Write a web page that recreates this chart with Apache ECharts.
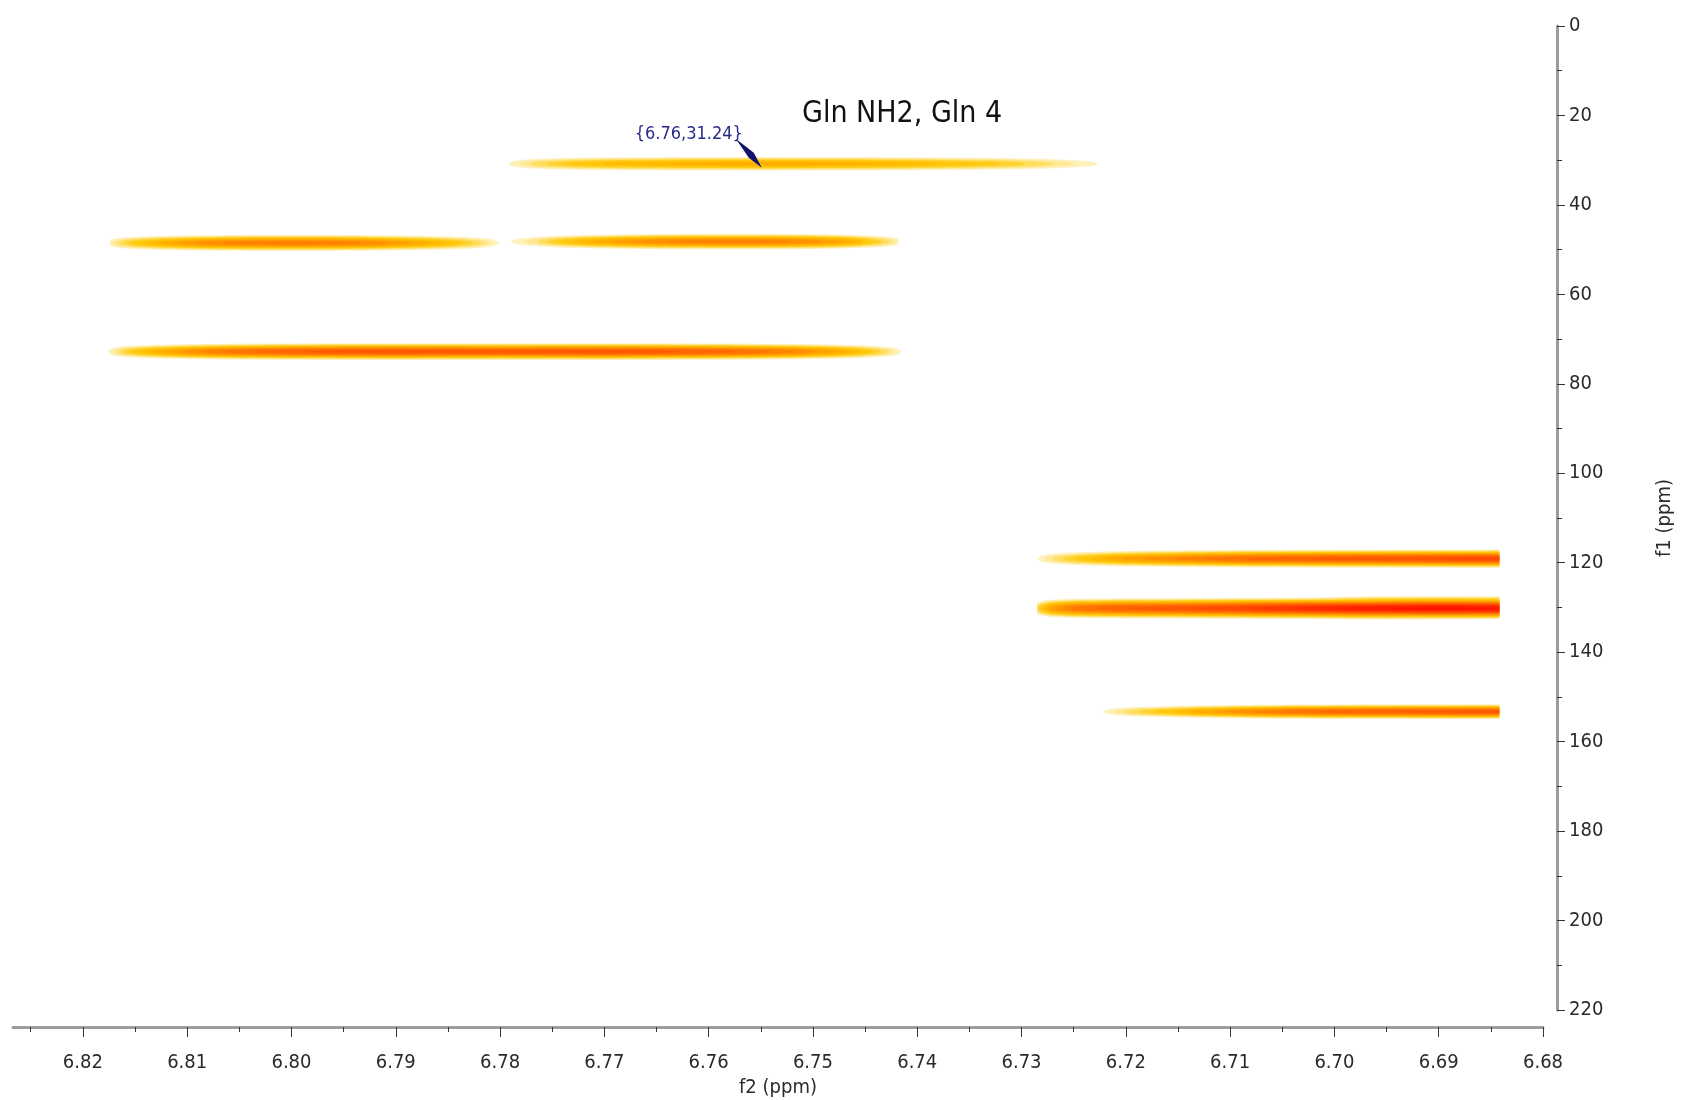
<!DOCTYPE html>
<html>
<head>
<meta charset="utf-8">
<script src="https://cdn.jsdelivr.net/npm/echarts@6/dist/echarts.min.js"></script>
<style>
html,body{margin:0;padding:0;background:#fff;}
#chart{width:1684px;height:1100px;}
</style>
</head>
<body>
<div id="chart"></div>
<script>
// ---------- data ----------
const titleText = 'Gln NH2, Gln 4';
const f2Name = 'f2 (ppm)';
const f1Name = 'f1 (ppm)';
const f2Range = [6.68, 6.8267];
const f1Range = [0, 220];
const f2MajorTicks = [6.68, 6.69, 6.70, 6.71, 6.72, 6.73, 6.74, 6.75, 6.76, 6.77, 6.78, 6.79, 6.80, 6.81, 6.82];
const f2MinorTicks = [6.685, 6.695, 6.705, 6.715, 6.725, 6.735, 6.745, 6.755, 6.765, 6.775, 6.785, 6.795, 6.805, 6.815, 6.825];
const f1Interval = 20;

// peaks: centre in f1 (ppm), linewidth (sigma) in f1, intensity profile along f2
const peakNames = ['A', 'B1', 'B2', 'C', 'D', 'E', 'E-upper', 'E-lower', 'F'];
const peakF1 = [30.8, 48.5, 48.2, 72.8, 119.1, 130.2, 128.7, 131.7, 153.3];
const peakSigmaF1 = [0.74, 0.76, 0.74, 0.74, 0.80, 0.90, 0.62, 0.55, 0.66];
const peakF2 = [
  [6.7792, 6.7765, 6.7730, 6.7690, 6.7640, 6.7590, 6.7550, 6.7500, 6.7440, 6.7380, 6.7320, 6.7270, 6.7226],
  [6.8174, 6.8150, 6.8120, 6.8090, 6.8060, 6.8030, 6.8000, 6.7970, 6.7940, 6.7910, 6.7880, 6.7850, 6.7825, 6.7801],
  [6.7790, 6.7765, 6.7740, 6.7710, 6.7680, 6.7650, 6.7620, 6.7590, 6.7560, 6.7530, 6.7500, 6.7470, 6.7445, 6.7418],
  [6.8176, 6.8155, 6.8125, 6.8090, 6.8050, 6.8000, 6.7950, 6.7900, 6.7850, 6.7800, 6.7750, 6.7700, 6.7650, 6.7600, 6.7560, 6.7520, 6.7480, 6.7450, 6.7415],
  [6.7285, 6.7260, 6.7230, 6.7200, 6.7160, 6.7120, 6.7080, 6.7040, 6.7000, 6.6960, 6.6920, 6.6880, 6.6842],
  [6.7285, 6.7272, 6.7250, 6.7210, 6.7150, 6.7100, 6.7050, 6.7000, 6.6960, 6.6920, 6.6880, 6.6842],
  [6.7040, 6.7000, 6.6960, 6.6920, 6.6880, 6.6842],
  [6.7030, 6.6990, 6.6950, 6.6910, 6.6880],
  [6.7222, 6.7195, 6.7160, 6.7120, 6.7080, 6.7040, 6.7000, 6.6960, 6.6920, 6.6880, 6.6842]
];
const peakIntensity = [
  [0.02, 0.06, 0.10, 0.13, 0.15, 0.165, 0.17, 0.165, 0.15, 0.12, 0.09, 0.05, 0.02],
  [0.03, 0.10, 0.17, 0.24, 0.29, 0.315, 0.32, 0.315, 0.29, 0.24, 0.18, 0.12, 0.07, 0.02],
  [0.02, 0.05, 0.10, 0.16, 0.22, 0.27, 0.30, 0.31, 0.31, 0.29, 0.25, 0.18, 0.10, 0.03],
  [0.02, 0.09, 0.17, 0.27, 0.37, 0.44, 0.48, 0.49, 0.48, 0.47, 0.48, 0.49, 0.47, 0.43, 0.37, 0.29, 0.19, 0.11, 0.02],
  [0.02, 0.07, 0.13, 0.20, 0.27, 0.34, 0.40, 0.44, 0.47, 0.49, 0.51, 0.54, 0.56],
  [0.06, 0.20, 0.34, 0.44, 0.50, 0.57, 0.66, 0.76, 0.83, 0.86, 0.86, 0.84],
  [0.02, 0.09, 0.13, 0.14, 0.14, 0.13],
  [0.02, 0.09, 0.11, 0.09, 0.02],
  [0.02, 0.06, 0.11, 0.19, 0.28, 0.36, 0.41, 0.44, 0.46, 0.47, 0.48]
];

const annotationPoint = [6.755, 31.24];
const annotationText = '{6.76,31.24}';

const contourLevels = [0.02, 0.035, 0.05, 0.07, 0.09, 0.12, 0.15, 0.19, 0.23, 0.28, 0.33, 0.39, 0.45, 0.52, 0.60, 0.68, 0.76, 0.84, 0.92];

// ---------- styling ----------
const FONT = "'DejaVu Sans Condensed', 'DejaVu Sans', sans-serif";
const colorStops = [
  [0.00, [255, 250, 235]],
  [0.03, [255, 236, 165]],
  [0.06, [255, 214, 60]],
  [0.10, [255, 195, 0]],
  [0.16, [255, 170, 0]],
  [0.24, [255, 140, 0]],
  [0.34, [255, 112, 0]],
  [0.46, [255, 85, 0]],
  [0.60, [255, 55, 0]],
  [0.75, [255, 30, 0]],
  [0.90, [255, 12, 0]],
  [1.00, [250, 0, 0]]
];
function colorAt(t) {
  for (let i = 0; i < colorStops.length - 1; i++) {
    const a = colorStops[i], b = colorStops[i + 1];
    if (t <= b[0]) {
      const f = (t - a[0]) / (b[0] - a[0]);
      const c = a[1].map((v, k) => Math.round(v + (b[1][k] - v) * f));
      return 'rgb(' + c.join(',') + ')';
    }
  }
  return 'rgb(250,0,0)';
}

function contourRuns(xs, is, t, sub) {
  const pts = [];
  for (let i = 0; i < xs.length - 1; i++) {
    for (let s = 0; s < sub; s++) {
      const f = s / sub;
      pts.push([xs[i] + (xs[i + 1] - xs[i]) * f, is[i] + (is[i + 1] - is[i]) * f]);
    }
  }
  pts.push([xs[xs.length - 1], is[is.length - 1]]);
  const runs = [];
  let cur = null;
  for (let k = 0; k < pts.length; k++) {
    const x = pts[k][0], I = pts[k][1];
    if (I > t) {
      if (!cur) {
        cur = [];
        if (k > 0) {
          const x0 = pts[k - 1][0], I0 = pts[k - 1][1];
          const f = (t - I0) / (I - I0);
          cur.push([x0 + (x - x0) * f, t]);
        }
      }
      cur.push([x, I]);
    } else if (cur) {
      const x0 = pts[k - 1][0], I0 = pts[k - 1][1];
      const f = (t - I0) / (I - I0);
      cur.push([x0 + (x - x0) * f, t]);
      runs.push(cur);
      cur = null;
    }
  }
  if (cur) runs.push(cur);
  return runs;
}

function renderLevel(params, api) {
  const t = contourLevels[params.dataIndex];
  const fill = colorAt(t);
  const children = [];
  for (let p = 0; p < peakF1.length; p++) {
    const yc = peakF1[p], w = peakSigmaF1[p];
    const runs = contourRuns(peakF2[p], peakIntensity[p], t, 8);
    runs.forEach(run => {
      const top = [], bottom = [];
      run.forEach(([x, I]) => {
        const h = I > t ? w * Math.sqrt(2 * Math.log(I / t)) : 0;
        top.push(api.coord([x, yc - h]));
        bottom.push(api.coord([x, yc + h]));
      });
      children.push({
        type: 'polygon',
        shape: { points: top.concat(bottom.reverse()) },
        style: { fill: fill, stroke: null }
      });
    });
  }
  return { type: 'group', children: children };
}

function renderAnnotation(params, api) {
  const p = api.coord([api.value(0), api.value(1)]);
  const x = p[0], y = p[1];
  return {
    type: 'group',
    children: [
      {
        type: 'polygon',
        shape: { points: [[x - 25, y - 27], [x - 7, y - 13], [x + 1, y + 2], [x - 12, y - 8]] },
        style: { fill: '#12126e' }
      },
      {
        type: 'text',
        x: x - 18, y: y - 31,
        style: { text: annotationText, fill: '#2a2a8c', font: '18px ' + FONT, align: 'right', verticalAlign: 'middle' }
      }
    ]
  };
}

const axisTextStyle = { fontFamily: FONT, fontSize: 20, color: '#2a2a2a' };

const option = {
  animation: false,
  backgroundColor: '#ffffff',
  title: {
    text: titleText, left: 797, top: 94,
    textStyle: { fontFamily: FONT, fontSize: 30, fontWeight: 'normal', color: '#111' }
  },
  grid: { left: 13, right: 141, top: 26, bottom: 90, containLabel: false, outerBoundsMode: 'none' },
  xAxis: [
    {
      type: 'value', min: f2Range[0], max: f2Range[1], inverse: true, position: 'bottom', offset: 17,
      name: f2Name, nameLocation: 'middle', nameGap: 50,
      nameTextStyle: axisTextStyle,
      axisLine: { show: true, onZero: false, lineStyle: { color: '#9c9c9c', width: 3 } },
      axisTick: { show: true, customValues: f2MajorTicks, length: 10, lineStyle: { color: '#333', width: 1 } },
      axisLabel: Object.assign({ customValues: f2MajorTicks, formatter: v => v.toFixed(2), margin: 26 }, axisTextStyle),
      splitLine: { show: false }
    },
    {
      type: 'value', min: f2Range[0], max: f2Range[1], inverse: true, position: 'bottom', offset: 17,
      axisLine: { show: false, onZero: false },
      axisTick: { show: true, customValues: f2MinorTicks, length: 5, lineStyle: { color: '#333', width: 1 } },
      axisLabel: { show: false },
      splitLine: { show: false }
    }
  ],
  yAxis: {
    type: 'value', min: f1Range[0], max: f1Range[1], interval: f1Interval, inverse: true,
    position: 'right', offset: 14,
    name: f1Name, nameLocation: 'middle', nameGap: 98, nameRotate: 90,
    nameTextStyle: axisTextStyle,
    axisLine: { show: true, onZero: false, lineStyle: { color: '#9c9c9c', width: 3 } },
    axisTick: { show: true, length: 8, lineStyle: { color: '#333', width: 1 } },
    minorTick: { show: true, splitNumber: 2, length: 5, lineStyle: { color: '#333', width: 1 } },
    axisLabel: Object.assign({ margin: 12 }, axisTextStyle),
    splitLine: { show: false }
  },
  series: [
    {
      type: 'custom', name: 'contours', coordinateSystem: 'cartesian2d',
      xAxisIndex: 0, yAxisIndex: 0,
      renderItem: renderLevel,
      data: contourLevels.map((t, i) => [6.75, 100, i]),
      silent: true, clip: true
    },
    {
      type: 'custom', name: 'annotation', coordinateSystem: 'cartesian2d',
      xAxisIndex: 0, yAxisIndex: 0,
      renderItem: renderAnnotation,
      data: [annotationPoint],
      silent: true, clip: false, z: 5
    }
  ]
};

const chart = echarts.init(document.getElementById('chart'), null, { renderer: 'canvas' });
chart.setOption(option);
</script>
</body>
</html>
